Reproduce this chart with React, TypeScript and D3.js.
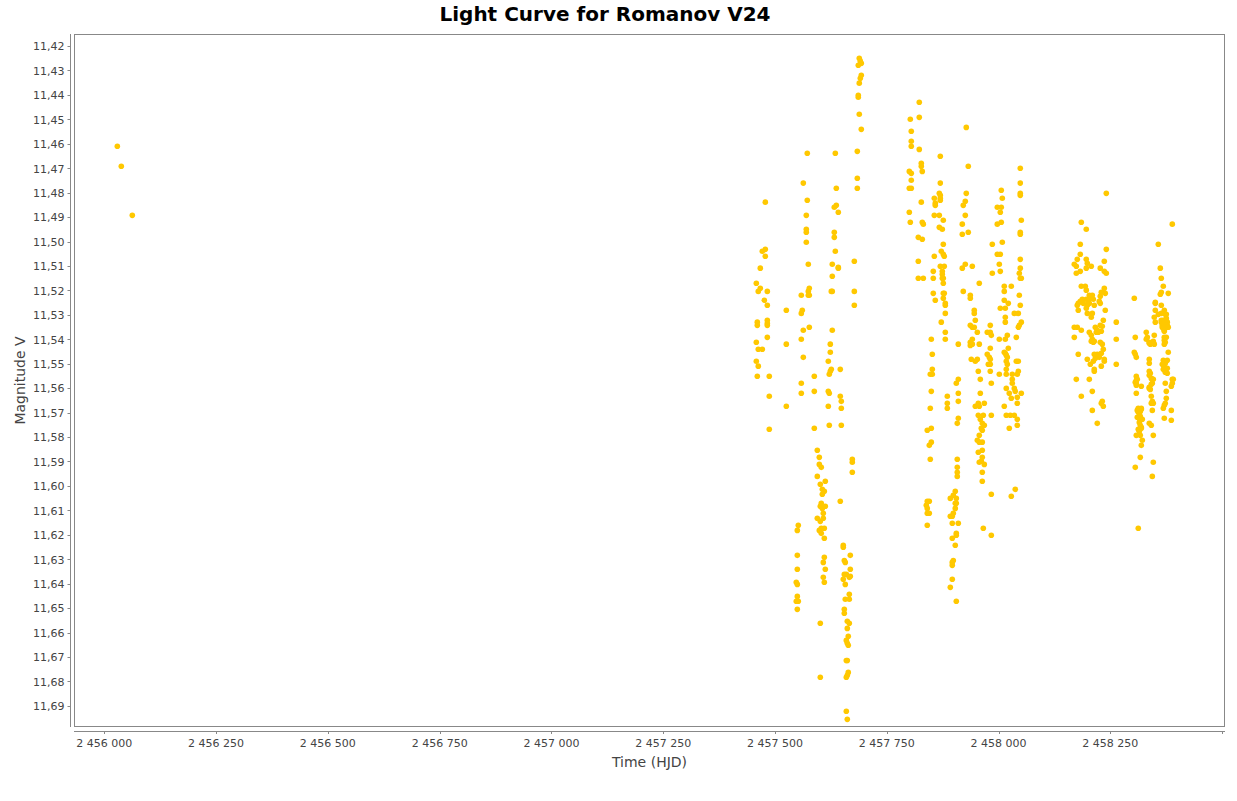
import React from "react";
import * as d3 from "d3";

const TITLE = "Light Curve for Romanov V24";
const X_LABEL = "Time (HJD)";
const Y_LABEL = "Magnitude V";

const xTicks = [2456000, 2456250, 2456500, 2456750, 2457000, 2457250, 2457500, 2457750, 2458000, 2458250, 2458500];
const xTickLabelled = [2456000, 2456250, 2456500, 2456750, 2457000, 2457250, 2457500, 2457750, 2458000, 2458250];
const yTicks = [11.42, 11.43, 11.44, 11.45, 11.46, 11.47, 11.48, 11.49, 11.5, 11.51, 11.52, 11.53, 11.54, 11.55, 11.56, 11.57, 11.58, 11.59, 11.6, 11.61, 11.62, 11.63, 11.64, 11.65, 11.66, 11.67, 11.68, 11.69];

// Each row: [HJD, magnitude, magnitude, ...]
const season2012: number[][] = [
  [2456029.1, 11.461],
  [2456038.0, 11.4692],
  [2456062.6, 11.4893],
];

const season2016: number[][] = [
  [2457458.3, 11.5171, 11.5412, 11.549],
  [2457460.5, 11.533, 11.5343, 11.5551],
  [2457462.7, 11.5204, 11.5441, 11.551],
  [2457467.2, 11.5109, 11.5191],
  [2457471.7, 11.504, 11.5441],
  [2457476.2, 11.524],
  [2457478.4, 11.4839, 11.5032, 11.506],
  [2457482.9, 11.5204, 11.5261, 11.5322, 11.5335, 11.5343, 11.5392],
  [2457487.3, 11.5551, 11.5633, 11.5768],
  [2457525.4, 11.5281, 11.542, 11.5674],
  [2457547.7, 11.6394, 11.6472],
  [2457550.0, 11.6182, 11.6284, 11.6341, 11.6403, 11.6452, 11.6505],
  [2457552.2, 11.6161, 11.6472],
  [2457558.9, 11.522, 11.5294, 11.54, 11.558, 11.5621],
  [2457561.1, 11.5281],
  [2457563.4, 11.4761, 11.5363, 11.5474],
  [2457570.1, 11.4893, 11.495, 11.4962, 11.5003],
  [2457572.3, 11.4639, 11.4831],
  [2457574.6, 11.5093, 11.5204, 11.522],
  [2457576.8, 11.5191, 11.522, 11.5351],
  [2457588.0, 11.5551, 11.5613, 11.5764],
  [2457594.7, 11.5854, 11.5961, 11.6132],
  [2457599.2, 11.5883, 11.5912, 11.6182],
  [2457601.4, 11.5993, 11.6083, 11.6145, 11.6562, 11.6783],
  [2457603.6, 11.5924, 11.6071, 11.6173, 11.6194],
  [2457605.9, 11.6014, 11.6034, 11.6092],
  [2457608.1, 11.6112, 11.6132, 11.6313, 11.6374],
  [2457610.4, 11.6022, 11.6173, 11.6214, 11.6292, 11.6394],
  [2457612.6, 11.5981, 11.6083, 11.6341],
  [2457619.3, 11.549, 11.5613, 11.5674],
  [2457621.5, 11.5543, 11.5621, 11.5752],
  [2457623.8, 11.542, 11.5453, 11.5531],
  [2457626.0, 11.5204, 11.5523],
  [2457628.2, 11.5093, 11.5142, 11.5204, 11.5363],
  [2457632.7, 11.486, 11.4962, 11.4983],
  [2457635.0, 11.4639, 11.504],
  [2457637.2, 11.4782, 11.4852],
  [2457641.7, 11.488, 11.5105, 11.5109],
  [2457646.1, 11.5523, 11.5633, 11.6063],
  [2457648.4, 11.5654, 11.5682, 11.5752],
  [2457652.8, 11.6243, 11.6251, 11.6382],
  [2457655.1, 11.6305, 11.6362, 11.6505, 11.6521],
  [2457657.3, 11.6313, 11.6403, 11.6464],
  [2457659.6, 11.6362, 11.6632, 11.6714, 11.6783, 11.6922],
  [2457661.8, 11.6554, 11.6583, 11.6644, 11.6714, 11.6775, 11.6955],
  [2457664.0, 11.6615, 11.6652, 11.6763],
  [2457666.3, 11.6374, 11.6443, 11.6464, 11.6562],
  [2457668.5, 11.6284, 11.6341, 11.637],
  [2457673.0, 11.5891, 11.5903, 11.5944],
  [2457677.5, 11.5081, 11.5204, 11.5261],
  [2457684.2, 11.4631, 11.4741, 11.4782],
  [2457686.4, 11.4279, 11.4402, 11.441],
  [2457688.6, 11.425, 11.4352, 11.4479],
  [2457690.9, 11.4262, 11.4332],
  [2457693.1, 11.4271, 11.432, 11.4541],
];

const season2017: number[][] = [
  [2457800.5, 11.4713, 11.4782, 11.488],
  [2457802.7, 11.45, 11.4921],
  [2457804.9, 11.4549, 11.459, 11.461, 11.4721, 11.4749, 11.4782],
  [2457820.6, 11.4983, 11.5081, 11.515],
  [2457822.8, 11.443, 11.4492, 11.4623],
  [2457827.3, 11.468, 11.4692, 11.4839],
  [2457829.5, 11.4713, 11.4921, 11.4991],
  [2457831.8, 11.4929, 11.515],
  [2457838.5, 11.6079],
  [2457840.7, 11.5772, 11.6063, 11.6092, 11.6112, 11.6161],
  [2457845.2, 11.5834, 11.6063, 11.6112],
  [2457847.4, 11.5543, 11.5682, 11.5891],
  [2457849.7, 11.54, 11.5613, 11.5764, 11.5821],
  [2457851.9, 11.5461, 11.5523, 11.5543],
  [2457854.1, 11.5122, 11.515, 11.5212],
  [2457856.4, 11.4823, 11.4893, 11.506],
  [2457858.6, 11.4843, 11.4852, 11.524],
  [2457867.6, 11.4803, 11.4893, 11.4942],
  [2457869.8, 11.4651, 11.4761, 11.4811, 11.4823, 11.4831, 11.5101],
  [2457872.0, 11.504, 11.533],
  [2457874.3, 11.495, 11.5122, 11.5134, 11.515],
  [2457876.5, 11.4913, 11.5011, 11.5052, 11.515, 11.5171, 11.5212, 11.5232],
  [2457878.7, 11.506, 11.5101, 11.5212],
  [2457881.0, 11.5253, 11.5261, 11.5294, 11.5371, 11.54],
  [2457885.5, 11.5633, 11.5662, 11.5682],
  [2457892.2, 11.6051, 11.6124, 11.6415],
  [2457896.6, 11.6124, 11.6153, 11.6214, 11.6313, 11.6325, 11.6382],
  [2457898.9, 11.6038, 11.6112, 11.6305],
  [2457903.3, 11.6022, 11.6071, 11.6092, 11.6243],
  [2457905.6, 11.558, 11.6051, 11.6071, 11.6194, 11.6202, 11.6472],
  [2457907.8, 11.5744, 11.5891, 11.5924, 11.5944, 11.5961],
  [2457910.1, 11.542, 11.5564, 11.5621, 11.5654, 11.5723, 11.6153],
  [2457919.0, 11.4929, 11.497, 11.5109],
  [2457921.2, 11.4852, 11.5204],
  [2457925.7, 11.4835, 11.4893, 11.5093],
  [2457927.9, 11.4533, 11.4803],
  [2457932.4, 11.4692, 11.4962],
  [2457936.9, 11.522, 11.5232, 11.5343, 11.5412, 11.5425],
  [2457939.1, 11.5482],
  [2457941.4, 11.5101, 11.5351, 11.54, 11.542],
  [2457945.8, 11.5281, 11.5294, 11.5351],
  [2457948.1, 11.5322, 11.549, 11.5674],
  [2457952.6, 11.5371, 11.5482, 11.5813],
  [2457954.8, 11.5531, 11.5662, 11.5711, 11.5862],
  [2457957.0, 11.5171, 11.542, 11.5674, 11.5793, 11.5821, 11.5903],
  [2457959.3, 11.5564, 11.5621, 11.5727],
  [2457961.5, 11.5764, 11.5899],
  [2457963.7, 11.5744, 11.5772, 11.5821, 11.5854, 11.5883, 11.5944, 11.5981],
  [2457966.0, 11.5711, 11.6173],
  [2457968.2, 11.5662, 11.5752, 11.5912],
  [2457974.9, 11.5371, 11.5461],
  [2457977.2, 11.5502],
  [2457979.4, 11.5474],
  [2457981.6, 11.5343, 11.5371, 11.5437, 11.5482, 11.5502, 11.5531],
  [2457983.9, 11.5384, 11.558, 11.5711, 11.6034, 11.6202],
  [2457986.1, 11.5011, 11.513],
  [2457997.3, 11.486, 11.4929, 11.5052],
  [2458001.8, 11.5093, 11.54, 11.5543],
  [2458004.0, 11.488, 11.5052, 11.5122, 11.5273],
  [2458006.2, 11.479, 11.486, 11.4921],
  [2458008.5, 11.4823, 11.5003],
  [2458012.9, 11.5183, 11.5204, 11.524, 11.5453, 11.5674],
  [2458015.2, 11.5273, 11.531, 11.533, 11.54, 11.5457],
  [2458017.4, 11.5465, 11.549, 11.5523, 11.5543, 11.5601, 11.5711],
  [2458019.7, 11.5384, 11.5474, 11.5502],
  [2458021.9, 11.5253, 11.5437],
  [2458024.1, 11.5621, 11.5764],
  [2458026.4, 11.5711],
  [2458028.6, 11.5183, 11.5641, 11.6042],
  [2458030.8, 11.5543, 11.5564, 11.558],
  [2458035.3, 11.5294, 11.5601, 11.5711],
  [2458037.5, 11.5613, 11.6014],
  [2458039.8, 11.5392, 11.549],
  [2458042.0, 11.5543, 11.5637, 11.5662, 11.5727, 11.5752],
  [2458044.3, 11.5294, 11.5351, 11.549, 11.5531],
  [2458046.5, 11.513, 11.522, 11.5343],
  [2458048.7, 11.47, 11.4761, 11.4803, 11.4811, 11.4962, 11.497, 11.5073, 11.5109, 11.515, 11.5261],
  [2458051.0, 11.4913, 11.515, 11.533, 11.5621],
];

const season2018: number[][] = [
  [2458169.5, 11.5093, 11.5351, 11.5392],
  [2458174.0, 11.5101, 11.513, 11.5564],
  [2458176.2, 11.5073, 11.5261, 11.5351],
  [2458178.4, 11.5253, 11.5281, 11.5461],
  [2458182.9, 11.5011, 11.5052, 11.5122, 11.5245],
  [2458185.2, 11.4921, 11.5183, 11.5363, 11.5633],
  [2458187.4, 11.5236],
  [2458189.6, 11.5253],
  [2458194.1, 11.5183],
  [2458196.3, 11.495, 11.5073, 11.5109, 11.5199, 11.5236, 11.5273],
  [2458198.6, 11.5089, 11.5261, 11.5294, 11.5482],
  [2458200.8, 11.5245],
  [2458203.1, 11.522, 11.5253, 11.5371, 11.5564],
  [2458205.3, 11.5232, 11.5502],
  [2458207.5, 11.5101, 11.531, 11.5384, 11.5408],
  [2458209.8, 11.522, 11.5294, 11.54, 11.5613, 11.5691],
  [2458212.0, 11.5236, 11.5412, 11.549],
  [2458214.2, 11.5261, 11.5408, 11.5461, 11.5523, 11.5531],
  [2458216.5, 11.5351, 11.5478],
  [2458218.7, 11.5371],
  [2458220.9, 11.5363, 11.5461, 11.5744],
  [2458223.2, 11.5371],
  [2458225.4, 11.5245, 11.5474],
  [2458227.6, 11.5109, 11.5224, 11.5253, 11.5343, 11.5412],
  [2458229.9, 11.5208, 11.5367, 11.5457, 11.551, 11.5662],
  [2458232.1, 11.5347, 11.542, 11.5654],
  [2458234.4, 11.5322, 11.5441, 11.5674],
  [2458236.6, 11.5081, 11.5122, 11.5191, 11.5482, 11.549],
  [2458238.8, 11.5212, 11.5281],
  [2458241.1, 11.4803, 11.5032, 11.513],
  [2458263.4, 11.533, 11.54, 11.5502],
  [2458303.7, 11.5232, 11.5453],
  [2458305.9, 11.5392, 11.5461, 11.5576, 11.5924],
  [2458308.2, 11.5474, 11.5551, 11.5568, 11.558, 11.5588, 11.5621, 11.5793],
  [2458310.4, 11.5564, 11.5691, 11.5719],
  [2458312.6, 11.5682, 11.5686, 11.5699, 11.5719, 11.5768, 11.6173],
  [2458314.9, 11.5699, 11.5723, 11.574, 11.5772, 11.5776],
  [2458317.1, 11.5695, 11.5715, 11.5731, 11.5752, 11.5793, 11.5883],
  [2458319.4, 11.5592, 11.5682, 11.5686, 11.576, 11.5764, 11.5834],
  [2458321.6, 11.5727, 11.5813],
  [2458330.5, 11.5371, 11.54],
  [2458332.8, 11.5392],
  [2458337.2, 11.5412, 11.5416, 11.5482, 11.5498, 11.5531, 11.5547, 11.5596, 11.5601, 11.5744],
  [2458339.5, 11.542, 11.5539, 11.5605],
  [2458341.7, 11.556, 11.5584, 11.5633, 11.5662, 11.5752],
  [2458344.0, 11.5416, 11.5564, 11.558, 11.5654, 11.5691, 11.5961],
  [2458346.2, 11.5408, 11.5564, 11.5662, 11.5793, 11.5903],
  [2458348.4, 11.531, 11.5384, 11.542],
  [2458350.7, 11.5249, 11.5253, 11.5281, 11.533],
  [2458357.4, 11.5011, 11.5298],
  [2458361.9, 11.5109, 11.5216],
  [2458364.1, 11.515, 11.5208, 11.5261, 11.5294, 11.5322, 11.533],
  [2458366.3, 11.5343, 11.5351, 11.5502],
  [2458368.6, 11.5183, 11.5322, 11.5339, 11.5355, 11.5486, 11.5523, 11.5682],
  [2458370.8, 11.5281, 11.5363, 11.5367, 11.5392, 11.5404, 11.542, 11.5515, 11.567, 11.5723],
  [2458373.0, 11.5298, 11.5412, 11.5498, 11.5535, 11.558, 11.5662],
  [2458375.3, 11.5298, 11.5314, 11.5322, 11.5392, 11.5613, 11.5641],
  [2458377.5, 11.533, 11.5343, 11.5486, 11.5519, 11.5539],
  [2458379.7, 11.5212, 11.5351, 11.5453],
  [2458386.5, 11.5592, 11.5691, 11.5731],
  [2458388.7, 11.4929, 11.5564, 11.558],
  [2458390.9, 11.5564],
];

const W = 1237;
const H = 801;
const PLOT = { left: 74, right: 1225, top: 34, bottom: 727 };
const FONT = "'DejaVu Sans', sans-serif";
const POINT_COLOR = "#FFC800";
const AXIS_COLOR = "#888888";
const TICK_TEXT = "#444444";

export default function App() {
  const x = d3.scaleLinear().domain([2455932.2, 2458506.6]).range([PLOT.left, PLOT.right]);
  const y = d3.scaleLinear().domain([11.41509, 11.69864]).range([PLOT.top, PLOT.bottom]);

  const points: { t: number; m: number }[] = [];
  for (const season of [season2012, season2016, season2017, season2018]) {
    for (const row of season) {
      for (let i = 1; i < row.length; i++) points.push({ t: row[0], m: row[i] });
    }
  }

  const fmtY = (v: number) => d3.format(".2f")(v).replace(".", ",");
  const fmtX = (v: number) => d3.format(",")(v).replace(/,/g, " ");
  const xAxisY = PLOT.bottom + 4;
  const yAxisX = PLOT.left - 3.5;

  return (
    <svg
      width={W}
      height={H}
      style={{ position: "absolute", left: 0, top: 0, display: "block", background: "#ffffff" }}
      fontFamily={FONT}
    >
      <rect x={0} y={0} width={W} height={H} fill="#ffffff" />
      <text x={605} y={21} textAnchor="middle" fontSize={20} fontWeight="bold" fill="#000000">
        {TITLE}
      </text>

      <rect
        x={PLOT.left + 0.5}
        y={PLOT.top + 0.5}
        width={PLOT.right - PLOT.left - 1}
        height={PLOT.bottom - PLOT.top - 1}
        fill="#ffffff"
        stroke={AXIS_COLOR}
        strokeWidth={1}
      />

      {/* y axis */}
      <line x1={yAxisX} x2={yAxisX} y1={PLOT.top} y2={PLOT.bottom} stroke={AXIS_COLOR} strokeWidth={1} />
      {yTicks.map((v) => (
        <g key={v}>
          <line x1={yAxisX - 3} x2={yAxisX} y1={Math.round(y(v)) + 0.5} y2={Math.round(y(v)) + 0.5} stroke={AXIS_COLOR} />
          <text x={64.5} y={y(v) + 4.3} textAnchor="end" fontSize={11} fill={TICK_TEXT}>
            {fmtY(v)}
          </text>
        </g>
      ))}

      {/* x axis */}
      <line x1={PLOT.left} x2={PLOT.right} y1={xAxisY + 0.5} y2={xAxisY + 0.5} stroke={AXIS_COLOR} strokeWidth={1} />
      {xTicks.map((v) => (
        <line key={v} x1={Math.round(x(v)) + 0.5} x2={Math.round(x(v)) + 0.5} y1={xAxisY} y2={xAxisY + 3} stroke={AXIS_COLOR} />
      ))}
      {xTickLabelled.map((v) => (
        <text key={v} x={x(v)} y={747} textAnchor="middle" fontSize={11} fill={TICK_TEXT}>
          {fmtX(v)}
        </text>
      ))}

      <text x={(PLOT.left + PLOT.right) / 2} y={767} textAnchor="middle" fontSize={14} fill={TICK_TEXT}>
        {X_LABEL}
      </text>
      <text
        transform={`translate(25, ${(PLOT.top + PLOT.bottom) / 2}) rotate(-90)`}
        textAnchor="middle"
        fontSize={14}
        fill={TICK_TEXT}
      >
        {Y_LABEL}
      </text>

      <g clipPath="url(#plotclip)">
        {points.map((p, i) => (
          <circle key={i} cx={x(p.t)} cy={y(p.m)} r={2.8} fill={POINT_COLOR} />
        ))}
      </g>
      <defs>
        <clipPath id="plotclip">
          <rect x={PLOT.left} y={PLOT.top} width={PLOT.right - PLOT.left} height={PLOT.bottom - PLOT.top} />
        </clipPath>
      </defs>
    </svg>
  );
}
